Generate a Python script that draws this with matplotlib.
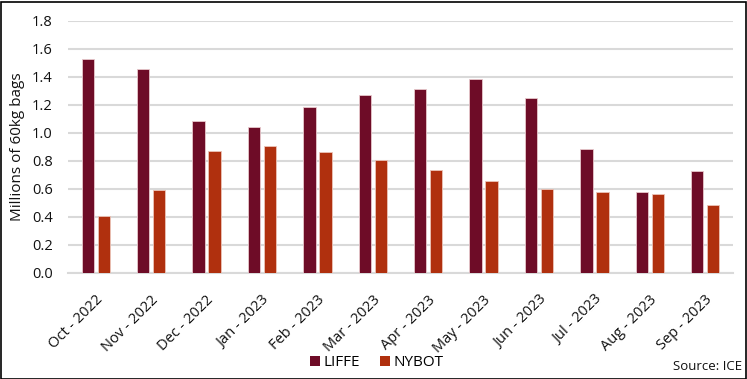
import matplotlib
matplotlib.use("Agg")
import matplotlib.pyplot as plt
import matplotlib.transforms as mtrans
import numpy as np
from matplotlib.patches import Rectangle

categories = ["Oct - 2022", "Nov - 2022", "Dec - 2022", "Jan - 2023", "Feb - 2023",
              "Mar - 2023", "Apr - 2023", "May - 2023", "Jun - 2023", "Jul - 2023",
              "Aug - 2023", "Sep - 2023"]
liffe = [1.524, 1.453, 1.084, 1.041, 1.186, 1.269, 1.310, 1.384, 1.250, 0.884, 0.576, 0.724]
nybot = [0.405, 0.589, 0.867, 0.905, 0.860, 0.803, 0.737, 0.653, 0.596, 0.579, 0.562, 0.484]
yticks = [0.0, 0.2, 0.4, 0.6, 0.8, 1.0, 1.2, 1.4, 1.6, 1.8]

plt.rcParams['font.family'] = ['Open Sans', 'DejaVu Sans']

W, H = 747, 379
fig = plt.figure(figsize=(W / 100, H / 100), dpi=100)
ax = fig.add_axes([68 / W, 1 - 272.7 / H, (733 - 68) / W, (272.7 - 20.7) / H])

x = np.arange(len(categories))
bw = 0.222
gap = 0.067
c1 = '#6E0C27'
c2 = '#B0300E'
ax.bar(x - (bw + gap) / 2, liffe, bw, color=c1, edgecolor='#E8C8CC', linewidth=0.6, label='LIFFE', zorder=3)
ax.bar(x + (bw + gap) / 2, nybot, bw, color=c2, edgecolor='#ECC4B8', linewidth=0.6, label='NYBOT', zorder=3)

ax.set_xlim(-0.5, len(categories) - 0.5)
ax.set_ylim(0, 1.8)
ax.set_yticks(yticks)
ax.set_yticklabels([f"{v:.1f}" for v in yticks], fontsize=10.5, color='#111111')
ax.yaxis.grid(True, color='#D9D9D9', linewidth=1.5, zorder=0)
ax.set_axisbelow(True)
for s in ['top', 'right', 'left']:
    ax.spines[s].set_visible(False)
ax.spines['bottom'].set_color('#D9D9D9')
ax.spines['bottom'].set_linewidth(1.5)
ax.tick_params(axis='both', length=0)
ax.tick_params(axis='y', pad=11)
ax.set_xticks(x)
ax.set_xticklabels(categories, rotation=45, ha='right', va='center', rotation_mode='anchor',
                   fontsize=10.5, color='#111111')
ax.tick_params(axis='x', pad=18)
offset = mtrans.ScaledTranslation(5 / 100, 0, fig.dpi_scale_trans)
for lbl in ax.get_xticklabels():
    lbl.set_transform(lbl.get_transform() + offset)
ax.set_ylabel('Millions of 60kg bags', fontsize=11, color='#111111', labelpad=5)

leg = fig.legend(handles=ax.patches[:1] + ax.patches[len(categories):len(categories) + 1],
                 labels=['LIFFE', 'NYBOT'], loc='center', bbox_to_anchor=(377 / W, 1 - 363 / H),
                 ncol=2, frameon=False, fontsize=11, handlelength=0.65, handleheight=0.65,
                 handletextpad=0.25, columnspacing=1.3)
for h in leg.legend_handles:
    h.set_edgecolor('none')

fig.text(742 / W, 1 - 366 / H, 'Source: ICE', ha='right', va='center', fontsize=9.5, color='#111111')

fig.patches.append(Rectangle((0.5 / W, 0.5 / H), (W - 2) / W, (H - 2) / H, transform=fig.transFigure,
                             fill=False, edgecolor='black', linewidth=1.2))

fig.savefig('out.png', dpi=100)
